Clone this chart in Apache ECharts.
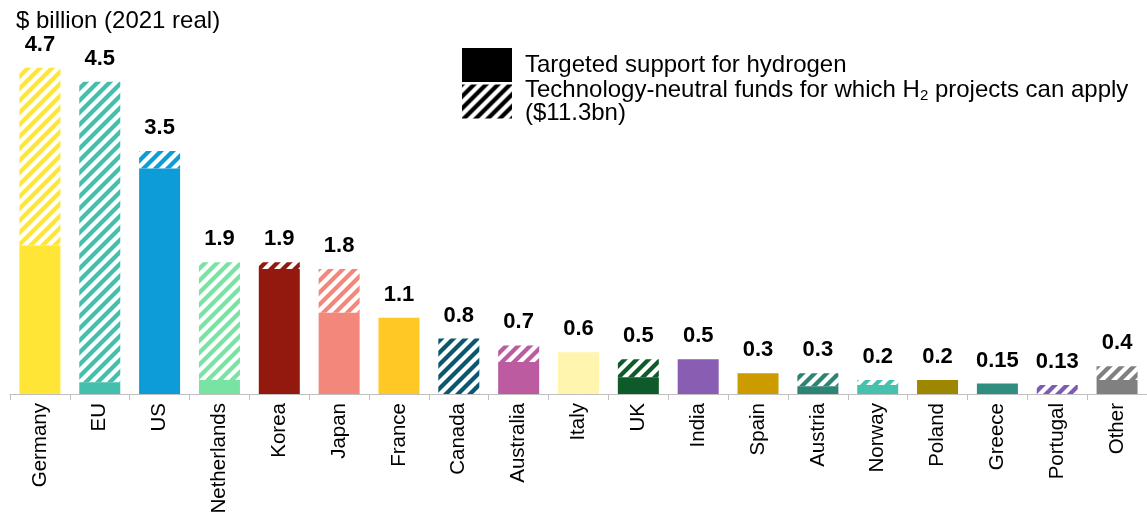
<!DOCTYPE html>
<html>
<head>
<meta charset="utf-8">
<title>Public funding for hydrogen</title>
<script src="https://cdn.jsdelivr.net/npm/echarts@6/dist/echarts.min.js"></script>
<style>
  html, body { margin: 0; padding: 0; background: #ffffff; }
  #chart { width: 1147px; height: 522px; }
</style>
</head>
<body>
<div id="chart"></div>
<script>
// Countries / regions, largest funding first
const categories = ['Germany', 'EU', 'US', 'Netherlands', 'Korea', 'Japan', 'France', 'Canada',
  'Australia', 'Italy', 'UK', 'India', 'Spain', 'Austria', 'Norway', 'Poland', 'Greece',
  'Portugal', 'Other'];

// Targeted support for hydrogen ($ billion, 2021 real)
const targeted = [2.14, 0.17, 3.25, 0.2, 1.8, 1.17, 1.1, 0, 0.46, 0.6, 0.24, 0.5, 0.3, 0.11,
  0.13, 0.2, 0.15, 0, 0.2];

// Technology-neutral funds open to H2 projects ($ billion, 2021 real)
const techNeutral = [2.56, 4.33, 0.25, 1.7, 0.1, 0.63, 0, 0.8, 0.24, 0, 0.26, 0, 0, 0.19,
  0.07, 0, 0, 0.13, 0.2];

// One colour per country, shared by its solid and hatched parts
const barColors = ['#FFE535', '#44BFAD', '#0E9CD9', '#78E3A3', '#93180D', '#F4877B', '#FFC824',
  '#0B5670', '#BC5BA0', '#FFF5AE', '#0F5A2A', '#885DB2', '#CC9B00', '#2E8474', '#45C1AE',
  '#9E8700', '#2F8E80', '#7F5BB3', '#808080'];

const seriesNames = ['Targeted support for hydrogen',
  'Technology-neutral funds for which H2 projects can apply'];

const FONT = '"Liberation Sans", Arial, Helvetica, sans-serif';

// Diagonal "/" stripes on a transparent tile, used as a repeating fill
function makeHatch(color) {
  const s = 12;
  const c = document.createElement('canvas');
  c.width = s; c.height = s;
  const ctx = c.getContext('2d');
  ctx.strokeStyle = color;
  ctx.lineWidth = 4.2;
  ctx.lineCap = 'square';
  [0, s, 2 * s].forEach(k => {
    ctx.beginPath();
    ctx.moveTo(-2, k + 2);
    ctx.lineTo(k + 2, -2);
    ctx.stroke();
  });
  return c;
}

function fmt(v) {
  return String(parseFloat(v.toFixed(2)));
}

const chart = echarts.init(document.getElementById('chart'), null, { renderer: 'canvas' });

chart.setOption({
  animation: false,
  backgroundColor: '#ffffff',
  title: {
    text: '$ billion (2021 real)',
    left: 16,
    top: 9,
    padding: 0,
    textStyle: { fontFamily: FONT, fontSize: 24, fontWeight: 'normal', color: '#000000' }
  },
  legend: {
    orient: 'vertical',
    left: 462,
    top: 48,
    padding: 0,
    itemWidth: 50,
    itemHeight: 34,
    itemGap: -4,
    icon: 'rect',
    selectedMode: false,
    data: [
      { name: seriesNames[0], itemStyle: { color: '#000000' } },
      { name: seriesNames[1], itemStyle: { color: { image: makeHatch('#000000'), repeat: 'repeat' } } }
    ],
    formatter: function (name) {
      if (name === seriesNames[1]) {
        return 'Technology-neutral funds for which H{sub|2} projects can apply\n($11.3bn)';
      }
      return name;
    },
    textStyle: {
      fontFamily: FONT,
      fontSize: 24,
      color: '#000000',
      lineHeight: 23,
      padding: [0, 0, 0, 8],
      rich: {
        sub: { fontFamily: FONT, fontSize: 15, color: '#000000', padding: [11, 0, 0, 0] }
      }
    }
  },
  grid: {
    left: 10,
    right: 0,
    top: 47,
    bottom: 128,
    containLabel: false,
    outerBoundsMode: 'none'
  },
  xAxis: {
    type: 'category',
    data: categories,
    boundaryGap: true,
    axisLine: { lineStyle: { color: '#BFBFBF', width: 1 } },
    axisTick: { show: true, length: 6, lineStyle: { color: '#BFBFBF' } },
    axisLabel: {
      interval: 0,
      rotate: 90,
      margin: 9,
      fontFamily: FONT,
      fontSize: 20.5,
      color: '#000000'
    },
    splitLine: { show: false }
  },
  yAxis: {
    type: 'value',
    min: 0,
    max: 5,
    show: false,
    splitLine: { show: false }
  },
  series: [
    {
      name: seriesNames[0],
      type: 'bar',
      stack: 'total',
      barWidth: 41,
      itemStyle: { color: '#000000' },
      emphasis: { disabled: true },
      data: targeted.map((v, i) => ({ value: v, itemStyle: { color: barColors[i] } }))
    },
    {
      name: seriesNames[1],
      type: 'bar',
      stack: 'total',
      barWidth: 41,
      itemStyle: { color: '#000000' },
      emphasis: { disabled: true },
      label: {
        show: true,
        position: 'top',
        distance: 12,
        fontFamily: FONT,
        fontSize: 22,
        fontWeight: 'bold',
        color: '#000000',
        formatter: p => fmt(targeted[p.dataIndex] + techNeutral[p.dataIndex])
      },
      data: techNeutral.map((v, i) => ({
        value: v,
        itemStyle: { color: { image: makeHatch(barColors[i]), repeat: 'repeat' } }
      }))
    }
  ]
});
</script>
</body>
</html>
